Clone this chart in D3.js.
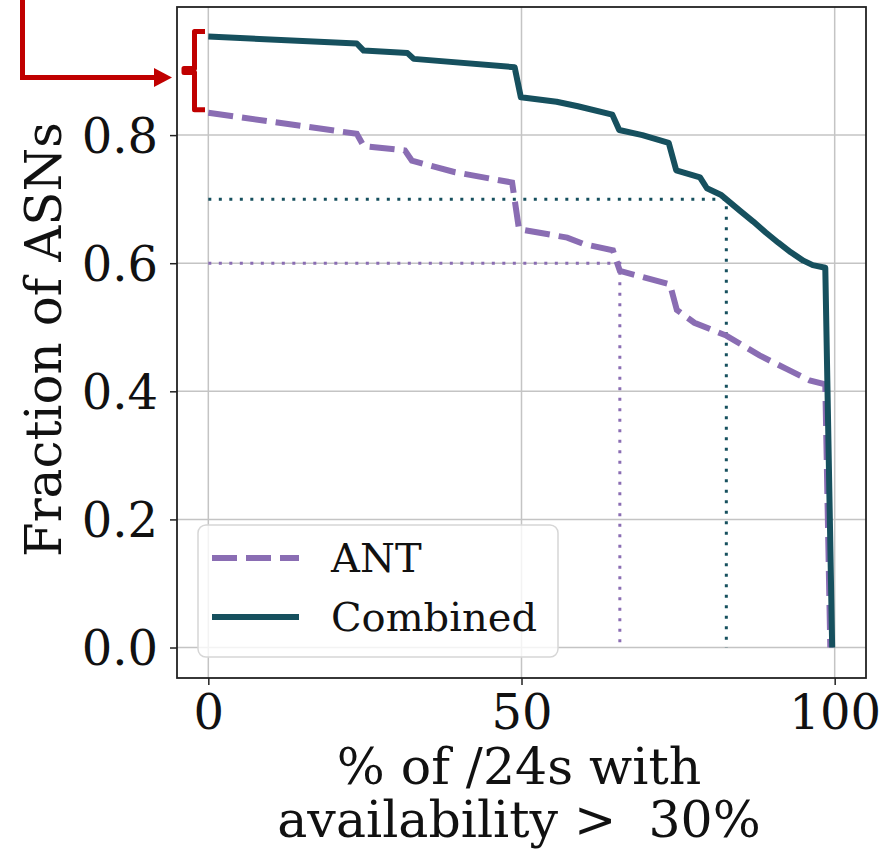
<!DOCTYPE html>
<html>
<head>
<meta charset="utf-8">
<script src="https://cdn.jsdelivr.net/npm/d3@7"></script>
<style>
  html, body { margin: 0; padding: 0; background: #fff; }
  svg { display: block; font-family: "DejaVu Serif", serif; }
</style>
</head>
<body>
<script>
// values
const antX = [0, 23.7, 24.8, 31.4, 32.5, 39.4, 48.5, 49.6, 57.3, 59.9, 64.6, 65.7, 73.7, 74.8, 77.6, 82.7, 88, 92.3, 96, 98.5, 99.3];
const antY = [0.835, 0.802, 0.783, 0.776, 0.760, 0.742, 0.726, 0.653, 0.640, 0.630, 0.620, 0.588, 0.567, 0.527, 0.507, 0.487, 0.456, 0.435, 0.417, 0.411, 0];

const combX = [0, 23.7, 24.8, 31.8, 32.8, 48.9, 49.9, 55.6, 59, 64.5, 65.6, 69.3, 73.5, 74.7, 78.5, 79.6, 81.8, 85, 87, 89, 91, 93, 95, 96.5, 98.5, 99.6];
const combY = [0.954, 0.943, 0.932, 0.928, 0.919, 0.906, 0.859, 0.852, 0.845, 0.832, 0.808, 0.800, 0.788, 0.745, 0.734, 0.717, 0.707, 0.681, 0.665, 0.648, 0.632, 0.617, 0.604, 0.597, 0.593, 0];

// dotted guide lines: fraction level and the x where the series reaches it
const guideLevel = [0.7, 0.6];
const guideX = [82.7, 65.7];
const guideSeries = ['Combined', 'ANT'];

const xTicks = [0, 50, 100];
const yTicks = [0, 0.2, 0.4, 0.6, 0.8];
const seriesNames = ['ANT', 'Combined'];

const colors = { ANT: '#8a6db3', Combined: '#16505e' };

const width = 887, height = 849;
const margin = { top: 7, right: 21, bottom: 171, left: 177 };

const svg = d3.select('body').append('svg')
    .attr('width', width)
    .attr('height', height);

const x = d3.scaleLinear()
    .domain([-5, 105])
    .range([margin.left, width - margin.right]);

const y = d3.scaleLinear()
    .domain([-0.0476, 1.0])
    .range([height - margin.bottom, margin.top]);

// grid
svg.append('g')
    .selectAll('line')
    .data(xTicks)
    .join('line')
    .attr('x1', d => x(d)).attr('x2', d => x(d))
    .attr('y1', margin.top).attr('y2', height - margin.bottom)
    .attr('stroke', '#c4c4c4').attr('stroke-width', 1.5);

svg.append('g')
    .selectAll('line')
    .data(yTicks)
    .join('line')
    .attr('y1', d => y(d)).attr('y2', d => y(d))
    .attr('x1', margin.left).attr('x2', width - margin.right)
    .attr('stroke', '#c4c4c4').attr('stroke-width', 1.5);

// dotted guides
const series = {
    ANT: antX.map((v, i) => [v, antY[i]]),
    Combined: combX.map((v, i) => [v, combY[i]])
};

guideLevel.forEach((lvl, i) => {
    const c = colors[guideSeries[i]];
    svg.append('path')
        .attr('d', `M${x(0)},${y(lvl)}H${x(guideX[i])}V${y(0)}`)
        .attr('fill', 'none')
        .attr('stroke', c)
        .attr('stroke-width', 3)
        .attr('stroke-dasharray', '3,7.5');
});

const line = d3.line().x(d => x(d[0])).y(d => y(d[1]));

svg.append('path')
    .datum(series.ANT)
    .attr('d', line)
    .attr('fill', 'none')
    .attr('stroke', colors.ANT)
    .attr('stroke-width', 6)
    .attr('stroke-dasharray', '25,9');

svg.append('path')
    .datum(series.Combined)
    .attr('d', line)
    .attr('fill', 'none')
    .attr('stroke', colors.Combined)
    .attr('stroke-width', 6)
    .attr('stroke-linejoin', 'round');

// axes
const xAxis = svg.append('g')
    .attr('transform', `translate(0,${height - margin.bottom})`)
    .call(d3.axisBottom(x).tickValues(xTicks).tickFormat(d3.format('d')).tickSize(7).tickPadding(10));

const yAxis = svg.append('g')
    .attr('transform', `translate(${margin.left},0)`)
    .call(d3.axisLeft(y).tickValues(yTicks).tickFormat(d3.format('.1f')).tickSize(7).tickPadding(12));

[xAxis, yAxis].forEach(g => {
    g.select('.domain').remove();
    g.selectAll('.tick line').attr('stroke', '#222').attr('stroke-width', 1.5);
    g.selectAll('.tick text')
        .attr('fill', '#111')
        .style('font-family', '"DejaVu Serif", serif')
        .style('font-size', '48px');
});
yAxis.selectAll('.tick text').attr('dy', '0.36em');

// spines
svg.append('rect')
    .attr('x', margin.left).attr('y', margin.top)
    .attr('width', width - margin.left - margin.right)
    .attr('height', height - margin.top - margin.bottom)
    .attr('fill', 'none')
    .attr('stroke', '#222')
    .attr('stroke-width', 1.8);

// axis labels
svg.append('text')
    .attr('transform', `translate(61,${(margin.top + height - margin.bottom) / 2 - 3}) rotate(-90)`)
    .attr('text-anchor', 'middle')
    .attr('fill', '#111')
    .style('font-size', '50px')
    .text('Fraction of ASNs');

const xl = svg.append('text')
    .attr('text-anchor', 'middle')
    .attr('fill', '#111')
    .style('font-size', '50.5px');
xl.append('tspan').attr('x', 519).attr('y', 784).text('% of /24s with');
xl.append('tspan').attr('x', 519).attr('y', 837).text('availability >\u00a0 30%');

// legend
const legend = svg.append('g');
legend.append('rect')
    .attr('x', 198).attr('y', 525)
    .attr('width', 360).attr('height', 132)
    .attr('rx', 8)
    .attr('fill', 'rgba(255,255,255,0.8)')
    .attr('stroke', '#d6d6d6')
    .attr('stroke-width', 1.5);

seriesNames.forEach((name, i) => {
    const ly = 558 + i * 59;
    legend.append('line')
        .attr('x1', 212).attr('x2', 299)
        .attr('y1', ly).attr('y2', ly)
        .attr('stroke', colors[name])
        .attr('stroke-width', 6)
        .attr('stroke-dasharray', name === 'ANT' ? '25,9' : null);
    legend.append('text')
        .attr('x', 331).attr('y', ly + 14)
        .attr('fill', '#111')
        .style('font-size', '40px')
        .text(name);
});

// red callout: arrow pointing at the gap between the curves
const red = '#c00000';
const topB = y(combY[0]) - 5, botB = y(antY[0]) - 3, midB = (topB + botB) / 2;
svg.append('path')
    .attr('d', `M205,${topB}H194.5V${midB - 2}H184V${midB + 2}H194.5V${botB}H205`)
    .attr('fill', 'none')
    .attr('stroke', red)
    .attr('stroke-width', 5)
    .attr('stroke-linejoin', 'round');

svg.append('path')
    .attr('d', 'M22.5,0V77.5H157')
    .attr('fill', 'none')
    .attr('stroke', red)
    .attr('stroke-width', 5);

svg.append('path')
    .attr('d', 'M154,68L172,77.5L154,87Z')
    .attr('fill', red);
</script>
</body>
</html>
